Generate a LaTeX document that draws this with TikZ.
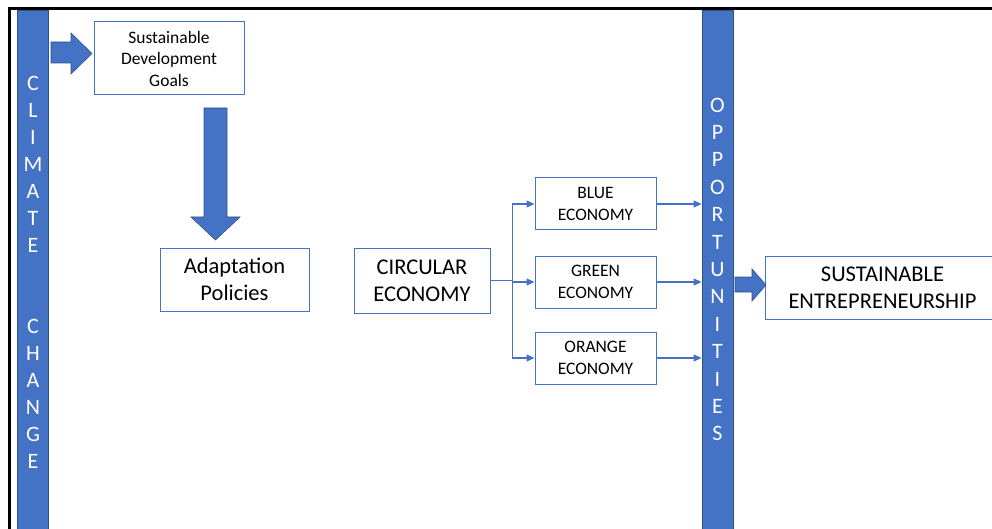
\documentclass[tikz,border=0pt]{standalone}
\usepackage{fontspec}
\setmainfont{Carlito}
\usetikzlibrary{positioning,arrows.meta}

\definecolor{officeblue}{HTML}{4472C4}
\definecolor{barline}{HTML}{2F528F}

\tikzset{
  box/.style={draw=officeblue, line width=1pt, fill=white, align=center, inner sep=0pt},
  smalltext/.style={font=\fontsize{17.5}{21.5}\selectfont},
  bigtext/.style={font=\fontsize{22.5}{27}\selectfont},
  bar/.style={fill=officeblue, draw=barline, line width=0.8pt, inner sep=0pt},
  barletters/.style={text=white, align=center, inner sep=0pt},
  link/.style={draw=officeblue, line width=1.1pt, -{Triangle[length=8pt,width=7pt]}},
  plainlink/.style={draw=officeblue, line width=1.1pt},
  fatarrow/.style={fill=officeblue, draw=barline, line width=0.6pt},
}

\begin{document}
\begin{tikzpicture}[x=1pt, y=-1pt]
  \useasboundingbox (0,0) rectangle (992,529);

  % frame
  \draw[line width=3pt] (9.5,535) -- (9.5,8.5) -- (995,8.5);

  % the two bars
  \node[bar, minimum width=31pt, minimum height=530pt, anchor=north] (climbar) at (33,10) {};
  \node[bar, minimum width=31pt, minimum height=530pt, anchor=north] (oppbar) at (717.5,10) {};

  \node[barletters, font=\fontsize{22}{27}\selectfont] (climtext) at (33,272)
    {C\\L\\I\\M\\A\\T\\E\\ \\ \\C\\H\\A\\N\\G\\E};
  \node[barletters, font=\fontsize{22}{27.4}\selectfont] (opptext) at (717.5,269.5)
    {O\\P\\P\\O\\R\\T\\U\\N\\I\\T\\I\\E\\S};

  % boxes
  \node[box, smalltext, minimum width=150pt, minimum height=73pt] (sdg) at (169,58.5)
    {Sustainable\\Development\\Goals};
  \node[box, bigtext, minimum width=149pt, minimum height=63pt] (adapt) at (234.5,279.5)
    {Adaptation\\Policies};
  \node[box, bigtext, minimum width=136pt, minimum height=65pt] (circ) at (422,280.5)
    {CIRCULAR\\ECONOMY};

  \node[box, smalltext, minimum width=121pt, minimum height=52pt] (blue) at (595.5,204)
    {BLUE\\ECONOMY};
  \node[box, smalltext, minimum width=121pt, minimum height=52pt] (green) at (595.5,282)
    {GREEN\\ECONOMY};
  \node[box, smalltext, minimum width=121pt, minimum height=52pt] (orange) at (595.5,358)
    {ORANGE\\ECONOMY};

  \node[box, bigtext, minimum width=235pt, minimum height=63pt] (entre) at (882.5,287.5)
    {SUSTAINABLE\\ENTREPRENEURSHIP};

  % block arrows
  \draw[fatarrow] (51,42) -- (71,42) -- (71,33) -- (92,53.5) -- (71,74) -- (71,63) -- (51,63) -- cycle;
  \draw[fatarrow] (204,108) -- (227,108) -- (227,217) -- (240,217) -- (215.5,240) -- (191,217) -- (204,217) -- cycle;
  \draw[fatarrow] (735,277) -- (752,277) -- (752,269) -- (766,285) -- (752,301) -- (752,292) -- (735,292) -- cycle;

  % fork from circular economy
  \coordinate[right=22pt of circ.east] (fork);
  \draw[plainlink] (circ.east) -- (fork);
  \draw[link] (fork) |- (blue.west);
  \draw[link] (fork |- green.west) -- (green.west);
  \draw[link] (fork) |- (orange.west);

  % into the opportunities bar
  \draw[link] (blue.east) -- (blue.east -| oppbar.west);
  \draw[link] (green.east) -- (green.east -| oppbar.west);
  \draw[link] (orange.east) -- (orange.east -| oppbar.west);
\end{tikzpicture}
\end{document}
